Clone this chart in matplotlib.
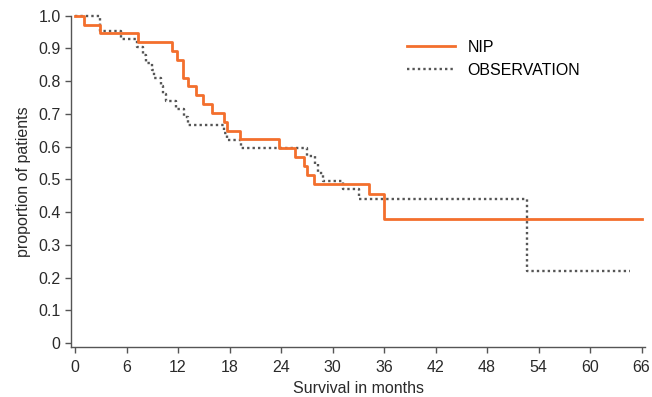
import matplotlib.pyplot as plt

plt.rcParams['font.family'] = ['Liberation Sans', 'DejaVu Sans']

# Kaplan-Meier steps (month, proportion)
nip_months = [0, 1.0, 2.9, 7.3, 11.3, 11.9, 12.6, 13.2, 14.1, 14.9, 16.0, 17.4,
              17.7, 19.2, 23.8, 25.6, 26.7, 27.0, 27.8, 34.3, 36.0, 66.1]
nip_prop = [1.0, 0.973, 0.946, 0.919, 0.892, 0.865, 0.811, 0.784, 0.757, 0.730,
            0.703, 0.676, 0.649, 0.622, 0.595, 0.568, 0.541, 0.514, 0.486,
            0.456, 0.378, 0.378]

obs_months = [0, 2.9, 5.4, 7.2, 7.9, 8.3, 9.0, 9.2, 10.0, 10.3, 10.6, 11.8,
              12.7, 13.2, 17.4, 17.7, 19.3, 27.0, 27.9, 28.3, 28.9, 31.2,
              33.1, 52.7, 64.6]
obs_prop = [1.0, 0.952, 0.929, 0.905, 0.881, 0.857, 0.833, 0.810, 0.786,
            0.762, 0.738, 0.714, 0.690, 0.667, 0.643, 0.619, 0.595, 0.571,
            0.546, 0.521, 0.496, 0.471, 0.440, 0.220, 0.220]

xticks = list(range(0, 67, 6))
yticks = [0, 0.1, 0.2, 0.3, 0.4, 0.5, 0.6, 0.7, 0.8, 0.9, 1.0]
ytick_labels = ['0'] + ['%.1f' % v for v in yticks[1:]]

fs = 11.5

fig = plt.figure(figsize=(6.52, 3.97), dpi=100)
ax = fig.add_axes([0.1089, 0.1259, 0.8804, 0.8346])

ax.step(nip_months, nip_prop, where='post', color='#f36f2d', lw=2.0,
        label='NIP', clip_on=False, zorder=3)
ax.step(obs_months, obs_prop, where='post', color='#555555', lw=1.7,
        linestyle=(0, (1.0, 1.3)), label='OBSERVATION', clip_on=False, zorder=2)

ax.set_xlim(-0.47, 66.4)
ax.set_ylim(-0.012, 1.0)
ax.set_xticks(xticks)
ax.set_yticks(yticks)
ax.set_yticklabels(ytick_labels)

for s in ['top', 'right']:
    ax.spines[s].set_visible(False)
for s in ['left', 'bottom']:
    ax.spines[s].set_color('#555555')
    ax.spines[s].set_linewidth(1.0)
ax.tick_params(colors='#555555', length=4, width=1.0, labelsize=fs,
               labelcolor='#2a2a2a')
ax.tick_params(axis='x', pad=5)

ax.set_xlabel('Survival in months', fontsize=fs, color='#2a2a2a', labelpad=5)
ax.set_ylabel('proportion of patients', fontsize=fs, color='#2a2a2a', labelpad=5)

ax.legend(loc='upper left', bbox_to_anchor=(0.56, 0.97), frameon=False,
          fontsize=fs, handlelength=3.0, handletextpad=0.8, labelspacing=0.5)

fig.savefig('out.png', dpi=100)
